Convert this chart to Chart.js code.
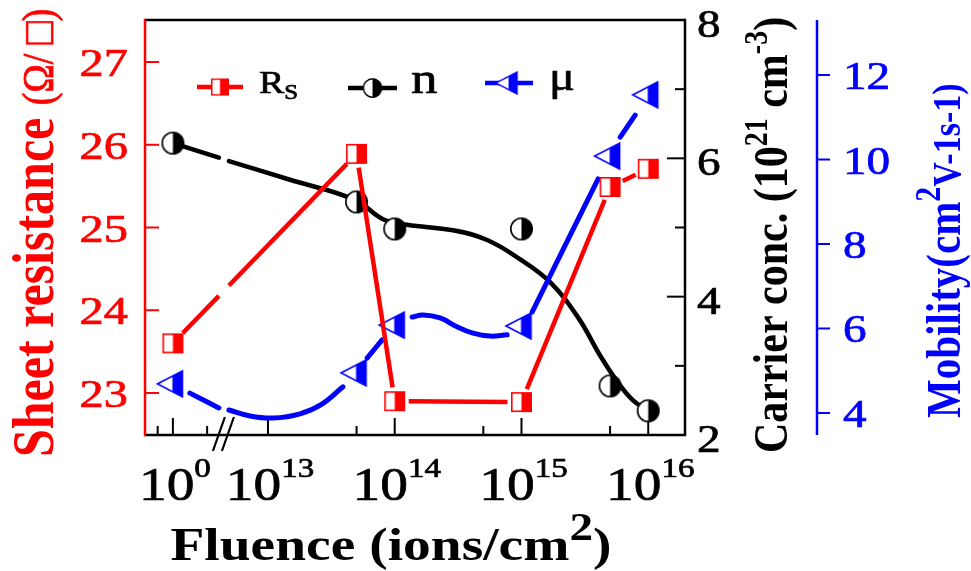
<!DOCTYPE html>
<html lang="en">
<head>
<meta charset="UTF-8">
<title>Sheet resistance, carrier concentration and mobility vs fluence</title>
<script src="https://cdn.jsdelivr.net/npm/chart.js@4.4.0/dist/chart.umd.min.js"></script>
<style>
    html, body { margin: 0; padding: 0; background: #fff; }
    .chart-box { position: relative; width: 971px; height: 571px; }
</style>
</head>
<body>
<div class="chart-box"><canvas id="fluenceChart"></canvas></div>
<script>
// measured points, fluence in ions/cm2 (1 = the unirradiated 10^0 sample)
const fluence = [1, 5e13, 1e14, 1e15, 5e15, 1e16];
const sheetRes = [23.60, 25.89, 22.90, 22.89, 25.49, 25.71];   // ohm/sq
const carrier = [6.22, 5.37, 4.98, 4.98, 2.71, 2.35];          // 10^21 cm^-3
const mobility = [4.69, 4.95, 6.08, 6.06, 10.08, 11.53];       // cm2/Vs

// guide curves as drawn in the figure (x in log10 fluence, y null = gap)
const carrierCurveX = [12.25, 12.613, 12.65, 12.692, 13.174, 13.687, 13.908, 14.097, 14.46, 14.729, 14.99, 15.226, 15.45, 15.62, 15.76, 15.88, 16.0];
const carrierCurveY = [6.22, 6.01, null, 5.96, 5.69, 5.40, 5.12, 5.04, 4.96, 4.82, 4.54, 4.21, 3.69, 3.15, 2.76, 2.50, 2.35];
const mobilityCurveX = [12.384, 12.613, 12.65, 12.692, 12.858, 13.039, 13.253, 13.426, 13.592, 13.69, 13.782, 13.90, 14.0, 14.137, 14.224, 14.358, 14.492, 14.618, 14.753, 14.887, 15.0, 15.084, 15.605, 15.7, 15.779, 15.897];
const mobilityCurveY = [4.47, 4.12, null, 4.07, 3.93, 3.88, 3.98, 4.21, 4.62, null, 5.30, 5.73, null, 6.27, 6.32, 6.25, 6.04, 5.89, 5.82, 5.85, null, 6.39, 9.54, null, 10.53, 11.05];

// axis ticks
const resTicks = [23, 24, 25, 26, 27];
const carrierTicks = [2, 4, 6, 8];
const carrierMinor = [3, 5, 7];
const mobilityTicks = [4, 6, 8, 10, 12];
const xMajor = [1, 1e13, 1e14, 1e15, 1e16];
const xMajorExp = ['0', '13', '14', '15', '16'];
const xMinor = [5e13, 5e14, 5e15];
const xMinorBeforeBreak = [12.13, 12.52];
const breakRange = [12.613, 12.692];

const ZERO_POS = 12.25;   // where 10^0 sits, left of the axis break
const xPos = f => f <= 1 ? ZERO_POS : Math.log10(f);

const RED = '#ff0000', BLUE = '#0000ff', BLACK = '#000000';
const SERIF = '"Liberation Serif", "Times New Roman", serif';
const SX = 1.18;   // the figure is a bit wider than tall

// half filled markers
function newCanvas(w, h) {
    const c = document.createElement('canvas');
    c.width = w; c.height = h;
    return c;
}
function squareMark(w, h, color) {
    const c = newCanvas(w + 2, h + 2), g = c.getContext('2d');
    g.fillStyle = '#fff'; g.fillRect(1, 1, w, h);
    g.fillStyle = color; g.fillRect(1 + w / 2, 1, w / 2, h);
    g.strokeStyle = color; g.lineWidth = 1.6;
    g.strokeRect(1.8, 1.8, w - 1.6, h - 1.6);
    return c;
}
function circleMark(d, color) {
    const c = newCanvas(d + 2, d + 2), g = c.getContext('2d');
    const m = (d + 2) / 2, r = d / 2 - 0.8;
    g.fillStyle = '#fff';
    g.beginPath(); g.arc(m, m, r, 0, Math.PI * 2); g.fill();
    g.fillStyle = color;
    g.beginPath(); g.moveTo(m, m); g.arc(m, m, r, -Math.PI / 2, Math.PI / 2); g.closePath(); g.fill();
    g.strokeStyle = color; g.lineWidth = 1.6;
    g.beginPath(); g.arc(m, m, r, 0, Math.PI * 2); g.stroke();
    return c;
}
function triangleMark(color) {
    // pointing left, box sits a little left of the data point
    const c = newCanvas(36, 30), g = c.getContext('2d');
    const x0 = 2.5, x1 = 27.5, y0 = 2, y1 = 28, ym = 15;
    const path = () => { g.beginPath(); g.moveTo(x0, ym); g.lineTo(x1, y0); g.lineTo(x1, y1); g.closePath(); };
    path(); g.fillStyle = '#fff'; g.fill();
    g.save(); path(); g.clip();
    g.fillStyle = color; g.fillRect(x0 + 0.6 * (x1 - x0), 0, 30, 30);
    g.restore();
    path(); g.strokeStyle = color; g.lineWidth = 1.6; g.lineJoin = 'miter'; g.stroke();
    return c;
}
const rsMark = squareMark(21, 20, RED);
const nMark = circleMark(23, BLACK);
const muMark = triangleMark(BLUE);

// straight R_s segments stop short of the markers and at the axis break
const GAP = 14;
function rsDash(ctx) {
    const p0 = ctx.p0, p1 = ctx.p1;
    const L = Math.hypot(p1.x - p0.x, p1.y - p0.y);
    const xs = ctx.chart.scales.x;
    const b0 = xs.getPixelForValue(breakRange[0]), b1 = xs.getPixelForValue(breakRange[1]);
    if (p0.x < b0 && p1.x > b1) {
        const t0 = (b0 - p0.x) / (p1.x - p0.x) * L;
        const t1 = (b1 - p0.x) / (p1.x - p0.x) * L;
        return [0, GAP, t0 - GAP, t1 - t0, L - t1 - GAP, L];
    }
    return [0, GAP, L - 2 * GAP, L];
}

function richText(ctx, parts, x, y, rot, align, color) {
    ctx.save();
    ctx.translate(x, y);
    ctx.scale(SX, 1);
    ctx.rotate(rot);
    ctx.fillStyle = color;
    ctx.strokeStyle = color;
    ctx.lineWidth = 0.7;
    ctx.textBaseline = 'alphabetic';
    ctx.textAlign = 'left';
    const fontOf = p => (p.bold ? 'bold ' : '') + p.size + 'px ' + SERIF;
    let w = 0;
    parts.forEach(p => { ctx.font = fontOf(p); w += ctx.measureText(p.t).width; });
    let cx = align === 'center' ? -w / 2 : align === 'right' ? -w : 0;
    parts.forEach(p => {
        ctx.font = fontOf(p);
        ctx.fillText(p.t, cx, -(p.rise || 0));
        if (!p.bold) ctx.strokeText(p.t, cx, -(p.rise || 0));   // the scan looks heavier than plain Times
        cx += ctx.measureText(p.t).width;
    });
    ctx.restore();
}

function seg(ctx, x0, y0, x1, y1) {
    ctx.beginPath(); ctx.moveTo(x0, y0); ctx.lineTo(x1, y1); ctx.stroke();
}

const figurePlugin = {
    id: 'figure',
    beforeDatasetsDraw(chart) {
        const { ctx, chartArea: a, scales } = chart;
        ctx.save();
        ctx.lineCap = 'butt';
        // ticks
        ctx.lineWidth = 2;
        ctx.strokeStyle = RED;
        resTicks.forEach(v => { const y = scales.y.getPixelForValue(v); seg(ctx, a.left, y, a.left + 14, y); });
        ctx.strokeStyle = BLACK;
        carrierTicks.forEach(v => { const y = scales.y1.getPixelForValue(v); seg(ctx, a.right - 18, y, a.right, y); });
        carrierMinor.forEach(v => { const y = scales.y1.getPixelForValue(v); seg(ctx, a.right - 10, y, a.right, y); });
        xMajor.forEach(f => { const x = scales.x.getPixelForValue(xPos(f)); seg(ctx, x, a.bottom, x, a.bottom - 17); });
        xMinor.forEach(f => { const x = scales.x.getPixelForValue(xPos(f)); seg(ctx, x, a.bottom, x, a.bottom - 9); });
        xMinorBeforeBreak.forEach(u => { const x = scales.x.getPixelForValue(u); seg(ctx, x, a.bottom, x, a.bottom - 9); });
        const bx = scales.y2.left;
        ctx.strokeStyle = BLUE;
        mobilityTicks.forEach(v => { const y = scales.y2.getPixelForValue(v); seg(ctx, bx, y, bx + 13, y); });
        // frame
        ctx.lineWidth = 2.5;
        ctx.strokeStyle = BLACK;
        seg(ctx, a.left, a.top, a.right, a.top);
        seg(ctx, a.left, a.bottom, a.right + 1.2, a.bottom);
        seg(ctx, a.right, a.top - 1.2, a.right, a.bottom);
        ctx.strokeStyle = RED;
        seg(ctx, a.left, a.top - 1.2, a.left, a.bottom + 1.2);
        ctx.strokeStyle = BLUE;
        seg(ctx, bx, a.top, bx, a.bottom);
        // axis break
        const cx = scales.x.getPixelForValue((breakRange[0] + breakRange[1]) / 2);
        ctx.strokeStyle = BLACK;
        ctx.lineWidth = 2.2;
        seg(ctx, cx - 11, a.bottom + 16, cx + 1, a.bottom - 18);
        seg(ctx, cx - 2, a.bottom + 16, cx + 10, a.bottom - 18);
        ctx.restore();
    },
    afterDraw(chart) {
        const { ctx, scales } = chart;
        // tick labels
        resTicks.forEach(v => richText(ctx, [{ t: String(v), size: 41 }], 128, scales.y.getPixelForValue(v) + 14, 0, 'right', RED));
        carrierTicks.forEach(v => richText(ctx, [{ t: String(v), size: 40 }], 697, scales.y1.getPixelForValue(v) + 17, 0, 'left', BLACK));
        mobilityTicks.forEach(v => richText(ctx, [{ t: String(v), size: 40 }], 843, scales.y2.getPixelForValue(v) + 14, 0, 'left', BLUE));
        xMajor.forEach((f, i) => richText(ctx, [{ t: '10', size: 47 }, { t: xMajorExp[i], size: 28, rise: 23 }],
            scales.x.getPixelForValue(xPos(f)) + 2, 500, 0, 'center', BLACK));
        // axis titles
        richText(ctx, [{ t: 'Fluence (ions/cm', size: 47, bold: true }, { t: '2', size: 40, bold: true, rise: 20 }, { t: ')', size: 47, bold: true }],
            391, 560, 0, 'center', BLACK);
        richText(ctx, [{ t: 'Sheet resistance ', size: 50, bold: true }, { t: '(Ω/ □)', size: 38 }],
            53, 457, -Math.PI / 2, 'left', RED);
        richText(ctx, [{ t: 'Carrier conc. (10', size: 42, bold: true }, { t: '21', size: 28, bold: true, rise: 17 },
            { t: ' cm', size: 42, bold: true }, { t: '-3', size: 28, bold: true, rise: 17 }, { t: ')', size: 42, bold: true }],
            787, 453, -Math.PI / 2, 'left', BLACK);
        richText(ctx, [{ t: 'Mobility(cm', size: 41, bold: true }, { t: '2', size: 30, bold: true, rise: 17 }, { t: 'V-1s-1)', size: 34, bold: true }],
            960, 418, -Math.PI / 2, 'left', BLUE);
        // legend
        const item = (mark, x0, x1, y, color) => {
            ctx.save();
            ctx.strokeStyle = color; ctx.lineWidth = 4.5;
            seg(ctx, x0, y, x1, y);
            const w = mark.width * 0.85, h = mark.height * 0.85;
            ctx.drawImage(mark, (x0 + x1) / 2 - w / 2, y - h / 2, w, h);
            ctx.restore();
        };
        item(rsMark, 197, 243, 87, RED);
        item(nMark, 348, 397, 88, BLACK);
        item(muMark, 485, 533, 83, BLUE);
        richText(ctx, [{ t: 'R', size: 32 }, { t: 'S', size: 21, rise: -6 }], 259, 93, 0, 'left', BLACK);
        richText(ctx, [{ t: 'n', size: 45 }], 411, 93, 0, 'left', BLACK);
        richText(ctx, [{ t: 'μ', size: 41 }], 549, 90, 0, 'left', BLACK);
    }
};

const hiddenAxis = (extra) => Object.assign({
    grid: { display: false },
    border: { display: false },
    ticks: { display: false },
    title: { display: false }
}, extra);

new Chart(document.getElementById('fluenceChart'), {
    type: 'line',
    data: {
        datasets: [
            {
                label: 'Rs',
                data: fluence.map((f, i) => ({ x: xPos(f), y: sheetRes[i] })),
                yAxisID: 'y',
                borderColor: RED,
                borderWidth: 4.5,
                tension: 0,
                pointStyle: rsMark,
                pointRadius: 11,
                segment: { borderDash: rsDash }
            },
            {
                label: 'mu',
                data: fluence.map((f, i) => ({ x: xPos(f), y: mobility[i] })),
                yAxisID: 'y2',
                showLine: false,
                pointStyle: muMark,
                pointRadius: 13
            },
            {
                label: 'mu curve',
                data: mobilityCurveX.map((u, i) => ({ x: u, y: mobilityCurveY[i] })),
                yAxisID: 'y2',
                borderColor: BLUE,
                borderWidth: 5,
                borderCapStyle: 'round',
                tension: 0.4,
                pointRadius: 0,
                spanGaps: false
            },
            {
                label: 'n',
                data: fluence.map((f, i) => ({ x: xPos(f), y: carrier[i] })),
                yAxisID: 'y1',
                showLine: false,
                pointStyle: nMark,
                pointRadius: 12
            },
            {
                label: 'n curve',
                data: carrierCurveX.map((u, i) => ({ x: u, y: carrierCurveY[i] })),
                yAxisID: 'y1',
                borderColor: BLACK,
                borderWidth: 4.5,
                borderCapStyle: 'round',
                tension: 0.4,
                pointRadius: 0,
                spanGaps: false
            }
        ]
    },
    options: {
        responsive: true,
        maintainAspectRatio: false,
        animation: false,
        events: [],
        devicePixelRatio: 1,
        layout: { padding: { top: 20, left: 0, right: 0, bottom: 0 } },
        plugins: { legend: { display: false }, tooltip: { enabled: false } },
        scales: {
            x: hiddenAxis({ type: 'linear', position: 'bottom', min: 12.03, max: 16.29, afterFit: s => { s.height = 136; } }),
            y: hiddenAxis({ position: 'left', min: 22.492, max: 27.508, afterFit: s => { s.width = 145; } }),
            y1: hiddenAxis({ position: 'right', weight: 0, min: 2, max: 8, afterFit: s => { s.width = 132; } }),
            y2: hiddenAxis({ position: 'right', weight: 1, min: 3.479, max: 13.302, afterFit: s => { s.width = 154; } })
        }
    },
    plugins: [figurePlugin]
});
</script>
</body>
</html>
